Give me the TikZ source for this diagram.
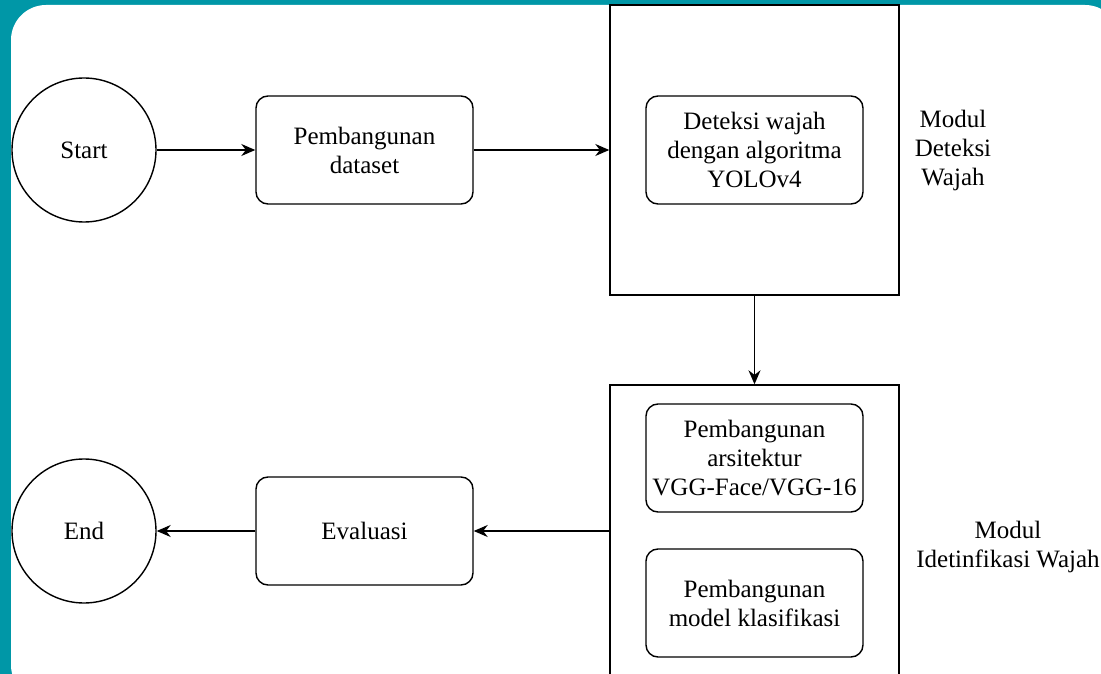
\documentclass[tikz,border=0pt]{standalone}
\usepackage{fontspec}
\setmainfont{Liberation Serif}
\usetikzlibrary{arrows.meta}
\definecolor{frameteal}{RGB}{0,151,167}
\begin{document}
\begin{tikzpicture}[x=1pt, y=-1pt,
    font=\fontsize{25}{29}\selectfont,
    term/.style={draw, line width=1.4pt, circle, minimum size=144pt, inner sep=0pt},
    proc/.style={draw, line width=1.4pt, rounded corners=12pt, minimum width=217pt, minimum height=108pt, inner sep=0pt, align=center},
    modbox/.style={draw, line width=1.4pt, minimum width=289pt, inner sep=0pt},
    flow/.style={-{Stealth[length=14pt, width=12pt]}, line width=1.4pt}]
  \useasboundingbox (0,0) rectangle (1101,674);
  \clip (0,0) rectangle (1101,674);
  % Frame
  \fill[frameteal] (0,0) rectangle (1101,674);
  \fill[white, rounded corners=35pt] (11,5) rectangle (1120,700);
  % Modules
  \node[modbox, minimum height=290pt] (detmod) at (754.5,150) {};
  \node[modbox, minimum height=320pt] (idmod) at (754.5,545) {};
  \node[align=center] (detlabel) at (953,150) {Modul\\Deteksi\\Wajah};
  \node[align=center] (idlabel) at (1008,547) {Modul\\Idetinfikasi Wajah};
  % Steps
  \node[term] (start) at (84,150) {Start};
  \node[proc] (dataset) at (364.5,150) {Pembangunan\\dataset};
  \node[proc] (yolo) at (754.5,150) {Deteksi wajah\\dengan algoritma\\YOLOv4};
  \node[proc] (vgg) at (754.5,458) {Pembangunan\\arsitektur\\VGG-Face/VGG-16};
  \node[proc] (klas) at (754.5,603) {Pembangunan\\model klasifikasi};
  \node[proc] (eval) at (364.5,531) {Evaluasi};
  \node[term] (end) at (84,531) {End};
  % Arrows
  \draw[flow] (start) -- (dataset);
  \draw[flow] (dataset) -- (detmod.west |- dataset);
  \draw[flow] (detmod) -- (idmod.north);
  \draw[flow] (idmod.west |- eval) -- (eval);
  \draw[flow] (eval) -- (end);
\end{tikzpicture}
\end{document}
